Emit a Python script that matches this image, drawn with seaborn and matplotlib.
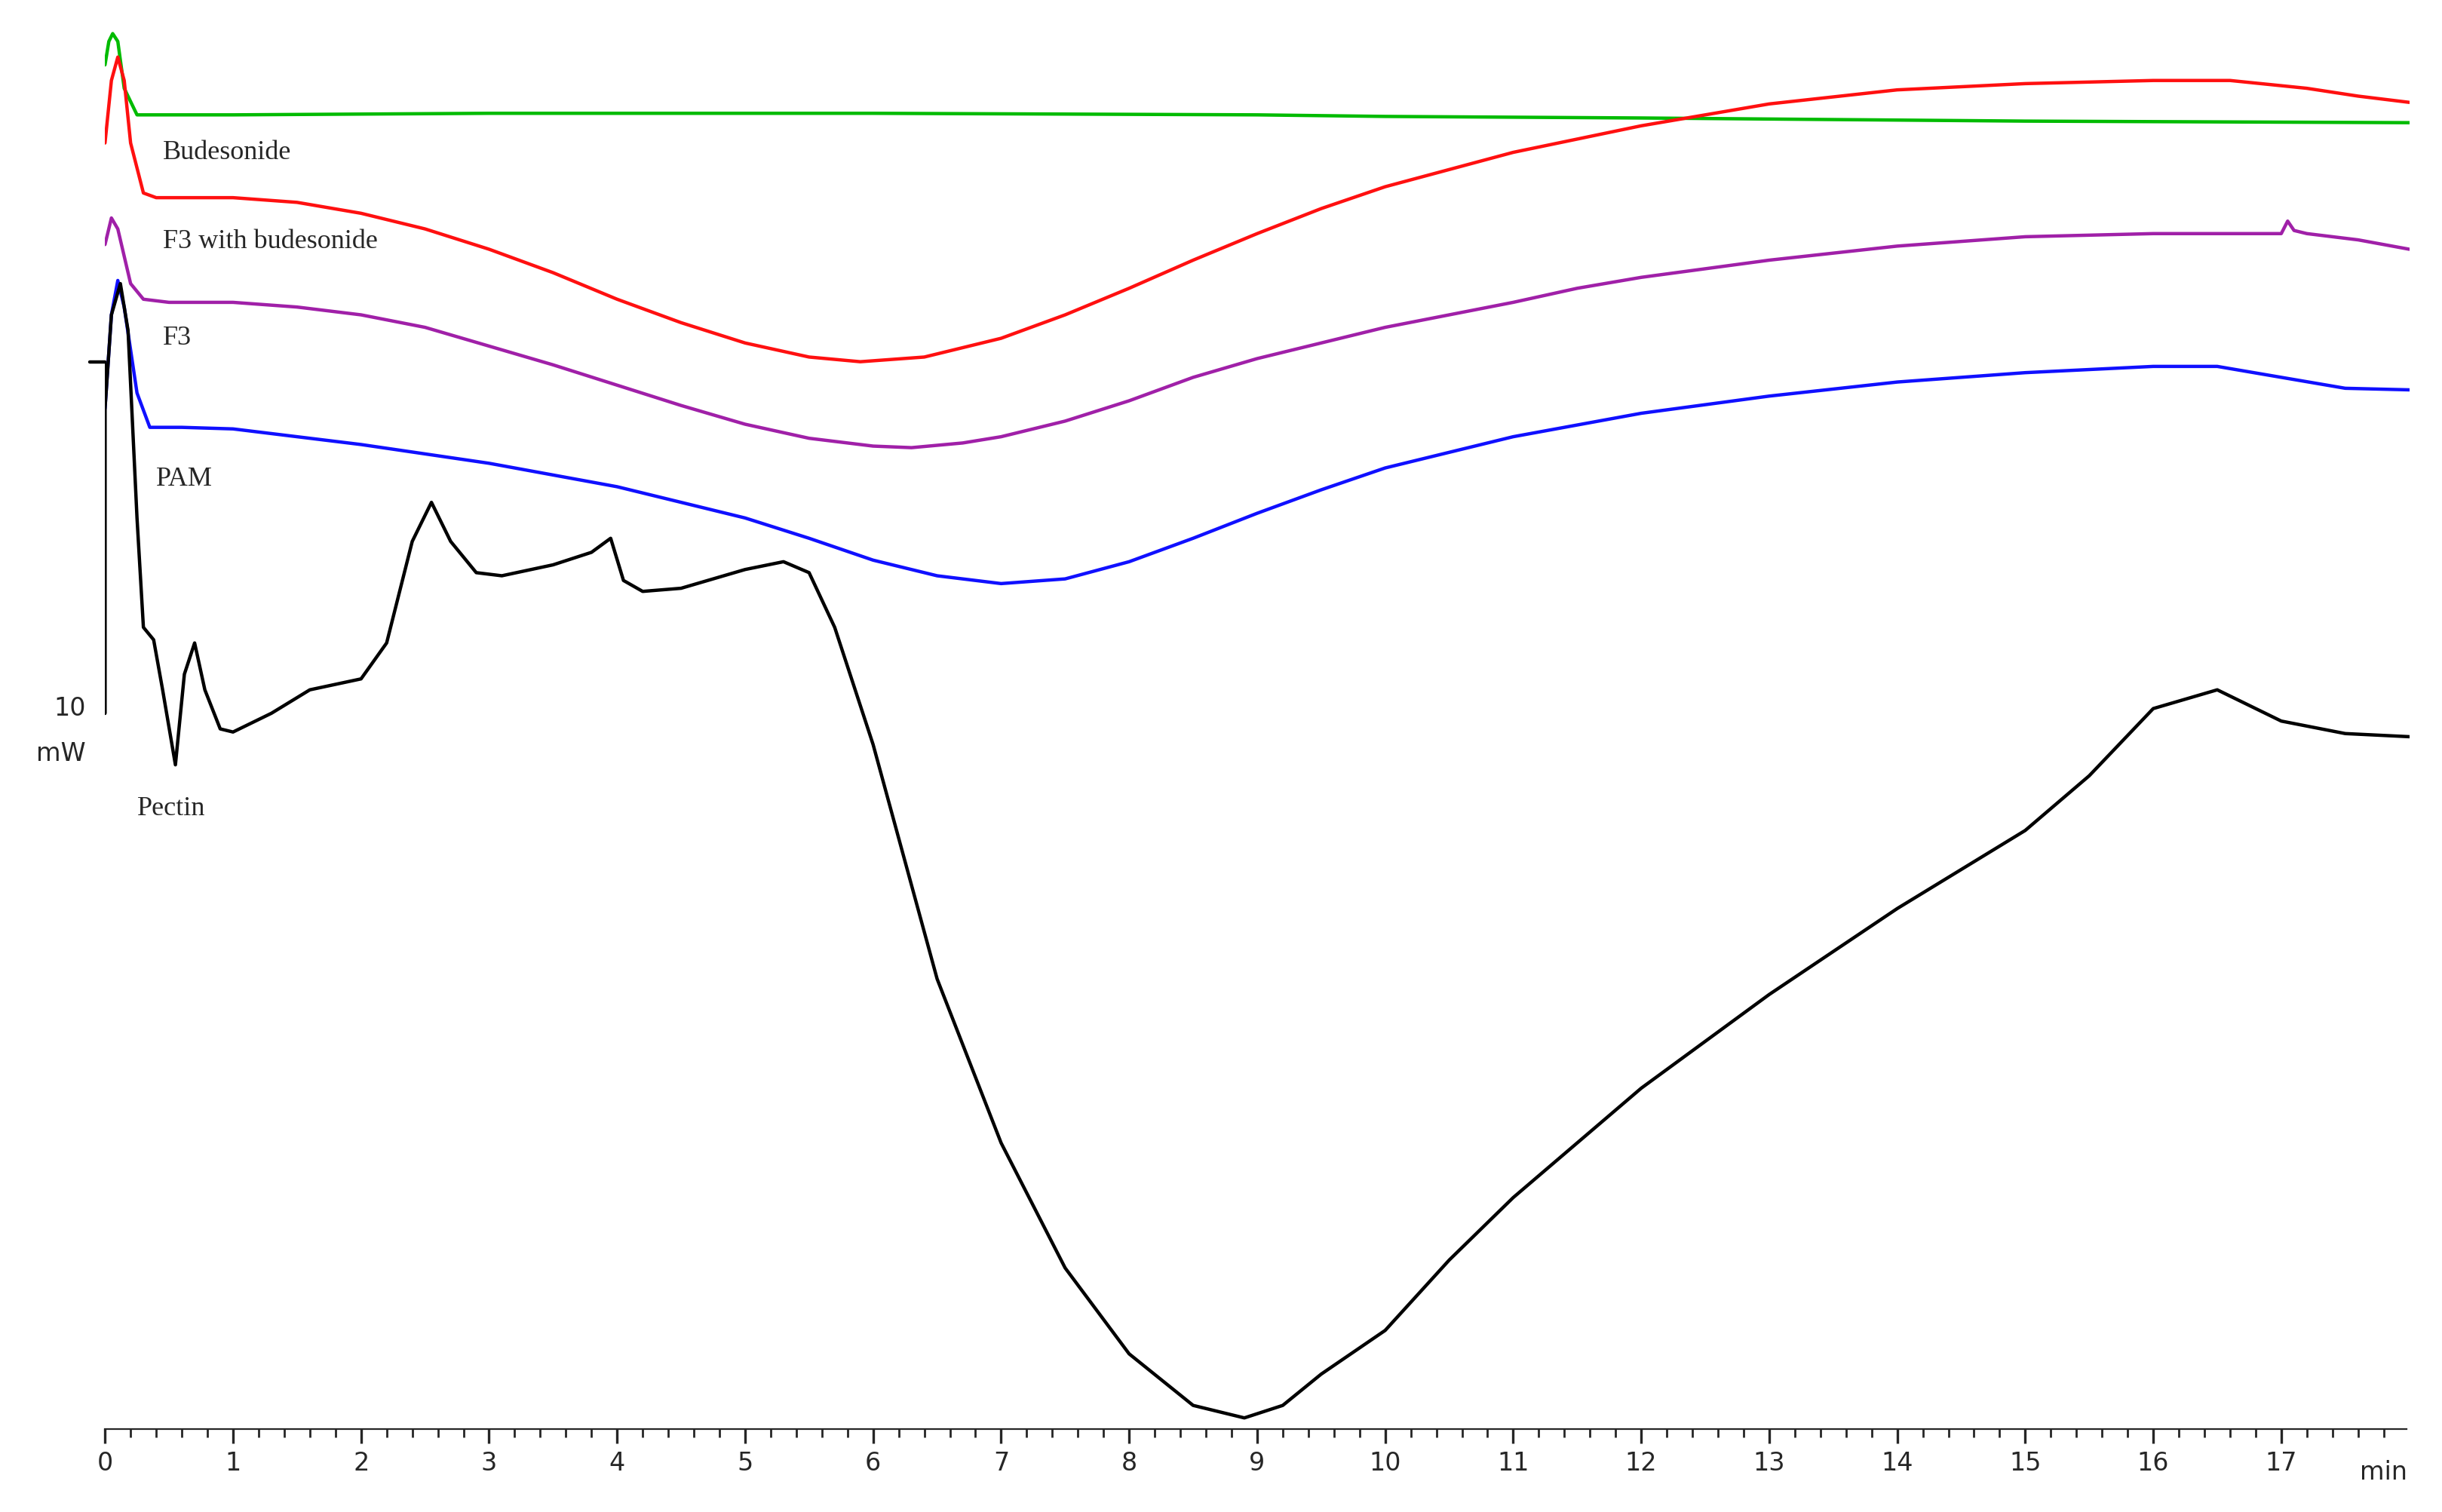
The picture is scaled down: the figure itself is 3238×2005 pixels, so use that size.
import numpy as np
import pandas as pd
import seaborn as sns
import matplotlib
matplotlib.use("Agg")
import matplotlib.pyplot as plt

# values: time (min) and heat flow position (mW, offset traces)
def mw(pix):
    return [(913 - p) / 22.5 for p in pix]

green_t = [0.0, 0.03, 0.06, 0.1, 0.15, 0.25, 1, 3, 6, 9, 10, 12, 15, 18]
green_y = mw([40, 25, 20, 25, 55, 72, 72, 71, 71, 72, 73, 74, 76, 77])

red_t = [0.0, 0.05, 0.1, 0.15, 0.2, 0.3, 0.4, 1, 1.5, 2, 2.5, 3, 3.5, 4, 4.5, 5, 5.5, 5.9, 6.4, 7, 7.5, 8, 8.5, 9, 9.5, 10, 11, 12, 13, 14, 15, 16, 16.6, 17.2, 17.6, 18]
red_y = mw([90, 50, 35, 50, 90, 122, 125, 125, 128, 135, 145, 158, 173, 190, 205, 218, 227, 230, 227, 215, 200, 183, 165, 148, 132, 118, 96, 79, 65, 56, 52, 50, 50, 55, 60, 64])

purple_t = [0.0, 0.05, 0.1, 0.2, 0.3, 0.5, 1, 1.5, 2, 2.5, 3, 3.5, 4, 4.5, 5, 5.5, 6, 6.3, 6.7, 7, 7.5, 8, 8.5, 9, 9.5, 10, 11, 11.5, 12, 13, 14, 15, 16, 17, 17.05, 17.1, 17.2, 17.6, 18]
purple_y = mw([155, 138, 145, 180, 190, 192, 192, 195, 200, 208, 220, 232, 245, 258, 270, 279, 284, 285, 282, 278, 268, 255, 240, 228, 218, 208, 192, 183, 176, 165, 156, 150, 148, 148, 140, 146, 148, 152, 158])

blue_t = [0.0, 0.05, 0.1, 0.15, 0.25, 0.35, 0.6, 1, 2, 3, 4, 4.5, 5, 5.5, 6, 6.5, 7, 7.5, 8, 8.5, 9, 9.5, 10, 11, 12, 13, 14, 15, 16, 16.5, 17, 17.5, 18]
blue_y = mw([260, 200, 178, 195, 250, 272, 272, 273, 283, 295, 310, 320, 330, 343, 357, 367, 372, 369, 358, 343, 327, 312, 298, 278, 263, 252, 243, 237, 233, 233, 240, 247, 248])

black_t = [0.0, 0.0, 0.05, 0.12, 0.18, 0.25, 0.3, 0.38, 0.45, 0.55, 0.62, 0.7, 0.78, 0.9, 1.0, 1.3, 1.6, 2.0, 2.2, 2.4, 2.55, 2.7, 2.9, 3.1, 3.5, 3.8, 3.95, 4.05, 4.2, 4.5, 5.0, 5.3, 5.5, 5.7, 6.0, 6.5, 7.0, 7.5, 8.0, 8.5, 8.9, 9.2, 9.5, 10.0, 10.5, 11.0, 12.0, 13.0, 14.0, 15.0, 15.5, 16.0, 16.5, 17.0, 17.5, 18.0]
black_y = mw([455, 260, 200, 180, 210, 330, 400, 408, 440, 488, 430, 410, 440, 465, 467, 455, 440, 433, 410, 345, 320, 345, 365, 367, 360, 352, 343, 370, 377, 375, 363, 358, 365, 400, 475, 625, 730, 810, 865, 898, 906, 898, 878, 850, 805, 765, 695, 635, 580, 530, 495, 452, 440, 460, 468, 470])

series = [("Budesonide", green_t, green_y, "#00bb00"),
          ("F3 with budesonide", red_t, red_y, "#ff1010"),
          ("F3", purple_t, purple_y, "#a020a8"),
          ("PAM", blue_t, blue_y, "#1010ff"),
          ("Pectin", black_t, black_y, "#000000")]
labels = [("Budesonide", 0.45, 96), ("F3 with budesonide", 0.45, 153), ("F3", 0.45, 215),
          ("PAM", 0.4, 305), ("Pectin", 0.25, 516)]

sns.set_style("white")
fig = plt.figure(figsize=(16.19, 10.025), dpi=200)
ax = fig.add_axes([0.043, 0.055, 0.9436, 0.93])
for name, t, y, c in series:
    df = pd.DataFrame({"t": t, "y": y})
    sns.lineplot(data=df, x="t", y="y", sort=False, color=c, lw=1.6, ax=ax, estimator=None)

for txt, x, py in labels:
    ax.text(x, mw([py])[0], txt, family="Liberation Serif", fontsize=13, va="center")

# scale bar 10 mW
ax.plot([0, 0], [mw([455])[0], mw([230])[0]], color="black", lw=1.6)
ax.plot([-0.12, 0], [mw([230])[0]] * 2, color="black", lw=1.6, clip_on=False)
ax.text(-0.15, mw([452])[0], "10", ha="right", va="center", fontsize=12)
ax.text(-0.15, mw([481])[0], "mW", ha="right", va="center", fontsize=12)

ax.set_xlim(0, 18)
ax.set_ylim(0, 40)
for s in ["top", "right", "left"]:
    ax.spines[s].set_visible(False)
ax.spines["bottom"].set_bounds(0, 17.98)
ax.set_yticks([])
ax.set_xticks(range(18))
ax.set_xticks(np.arange(0, 18, 0.2), minor=True)
ax.tick_params(axis="x", which="major", length=7, width=1.2, labelsize=12, direction="out", bottom=True)
ax.tick_params(axis="x", which="minor", length=4, width=1, bottom=True)
ax.text(17.8, -1.25, "min", ha="center", va="center", fontsize=12)
ax.set_xlabel("")
ax.set_ylabel("")
fig.savefig("out.png", dpi=200)
